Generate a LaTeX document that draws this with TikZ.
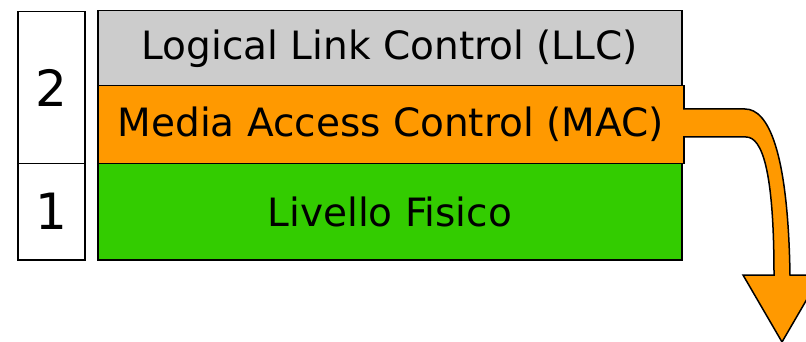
\documentclass[tikz,border=0pt]{standalone}
\usepackage{fontspec}
\setmainfont{DejaVu Sans}
\definecolor{llcgray}{HTML}{CCCCCC}
\definecolor{macorange}{HTML}{FF9900}
\definecolor{phygreen}{HTML}{33CC00}
\begin{document}
\begin{tikzpicture}[x=1pt,y=-1pt,
  layer/.style={draw=black, line width=1.5pt, anchor=north west, inner sep=0pt,
    font=\fontsize{39}{39}\selectfont},
  levelbox/.style={draw=black, line width=1.5pt, fill=white, anchor=north west, inner sep=0pt,
    font=\fontsize{50}{50}\selectfont},
  bigarrow/.style={fill=macorange, draw=black, line width=1.5pt, line join=miter}]
\useasboundingbox (0,0) rectangle (806,342);
% OSI level numbers
\node[levelbox, minimum width=67pt, minimum height=152pt] (lv2) at (17,11) {2};
\node[levelbox, minimum width=67pt, minimum height=96pt] (lv1) at (17,163) {1};
% sublayers
\node[layer, fill=llcgray, minimum width=584pt, minimum height=75pt] (llc) at (97,10) {Logical Link Control (LLC)};
\node[layer, fill=phygreen, minimum width=584pt, minimum height=96pt] (phy) at (97,163) {Livello Fisico};
\node[layer, fill=macorange, minimum width=586pt, minimum height=78pt] (mac) at (97,85) {Media Access Control (MAC)};
% bent arrow leaving the MAC sublayer
\draw[bigarrow] (683,109) -- (745,109)
  .. controls (768,109) and (788,150) .. (790,275)
  -- (821,275) -- (782,342) -- (743,275) -- (774,275)
  .. controls (774,170) and (762,137) .. (746,137)
  -- (683,137);
\end{tikzpicture}
\end{document}
